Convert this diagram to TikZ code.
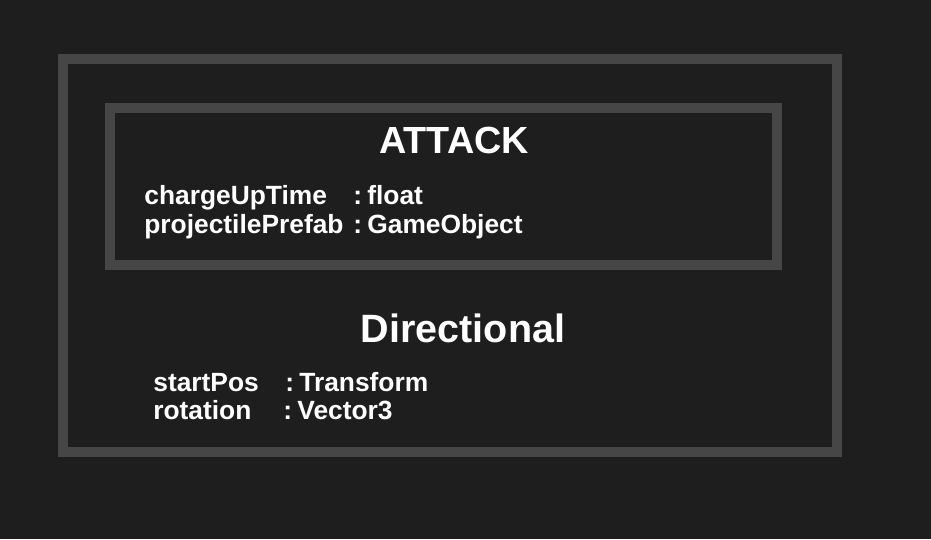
\documentclass[tikz,border=0pt]{standalone}
\usepackage{fontspec}
\setmainfont{Liberation Sans}
\definecolor{bgcol}{HTML}{1E1E1E}
\definecolor{framecol}{HTML}{464646}
\newcommand{\typesep}{:\hspace{0.2em}}

\begin{document}
\begin{tikzpicture}[x=0.02cm,y=-0.02cm,
  frame/.style={draw=framecol,line width=0.2cm},
  title/.style={text=white,inner sep=0,anchor=base,font=\bfseries\fontsize{21.5pt}{24pt}\selectfont},
  attr/.style={text=white,inner sep=0,anchor=base west,font=\bfseries\fontsize{15pt}{17pt}\selectfont}]
\fill[bgcol] (0,0) rectangle (931,539);
\useasboundingbox (0,0) rectangle (931,539);
\draw[frame] (63,59) rectangle (837,452);
\draw[frame] (110,108) rectangle (777,265);
\node[title] (attack) at (454,153) {ATTACK};
\node[attr] (charge) at (144,204) {chargeUpTime};
\node[attr] (chargetype) at (353,204) {\typesep float};
\node[attr] (prefab) at (144,233) {projectilePrefab};
\node[attr] (prefabtype) at (353,233) {\typesep GameObject};
\node[title,font=\bfseries\fontsize{22.5pt}{25pt}\selectfont] (directional) at (463,342) {Directional};
\node[attr] (startpos) at (153,391) {startPos};
\node[attr] (startpostype) at (285,391) {\typesep Transform};
\node[attr] (rotation) at (153,419) {rotation};
\node[attr] (rotationtype) at (283,419) {\typesep Vector3};
\end{tikzpicture}
\end{document}
